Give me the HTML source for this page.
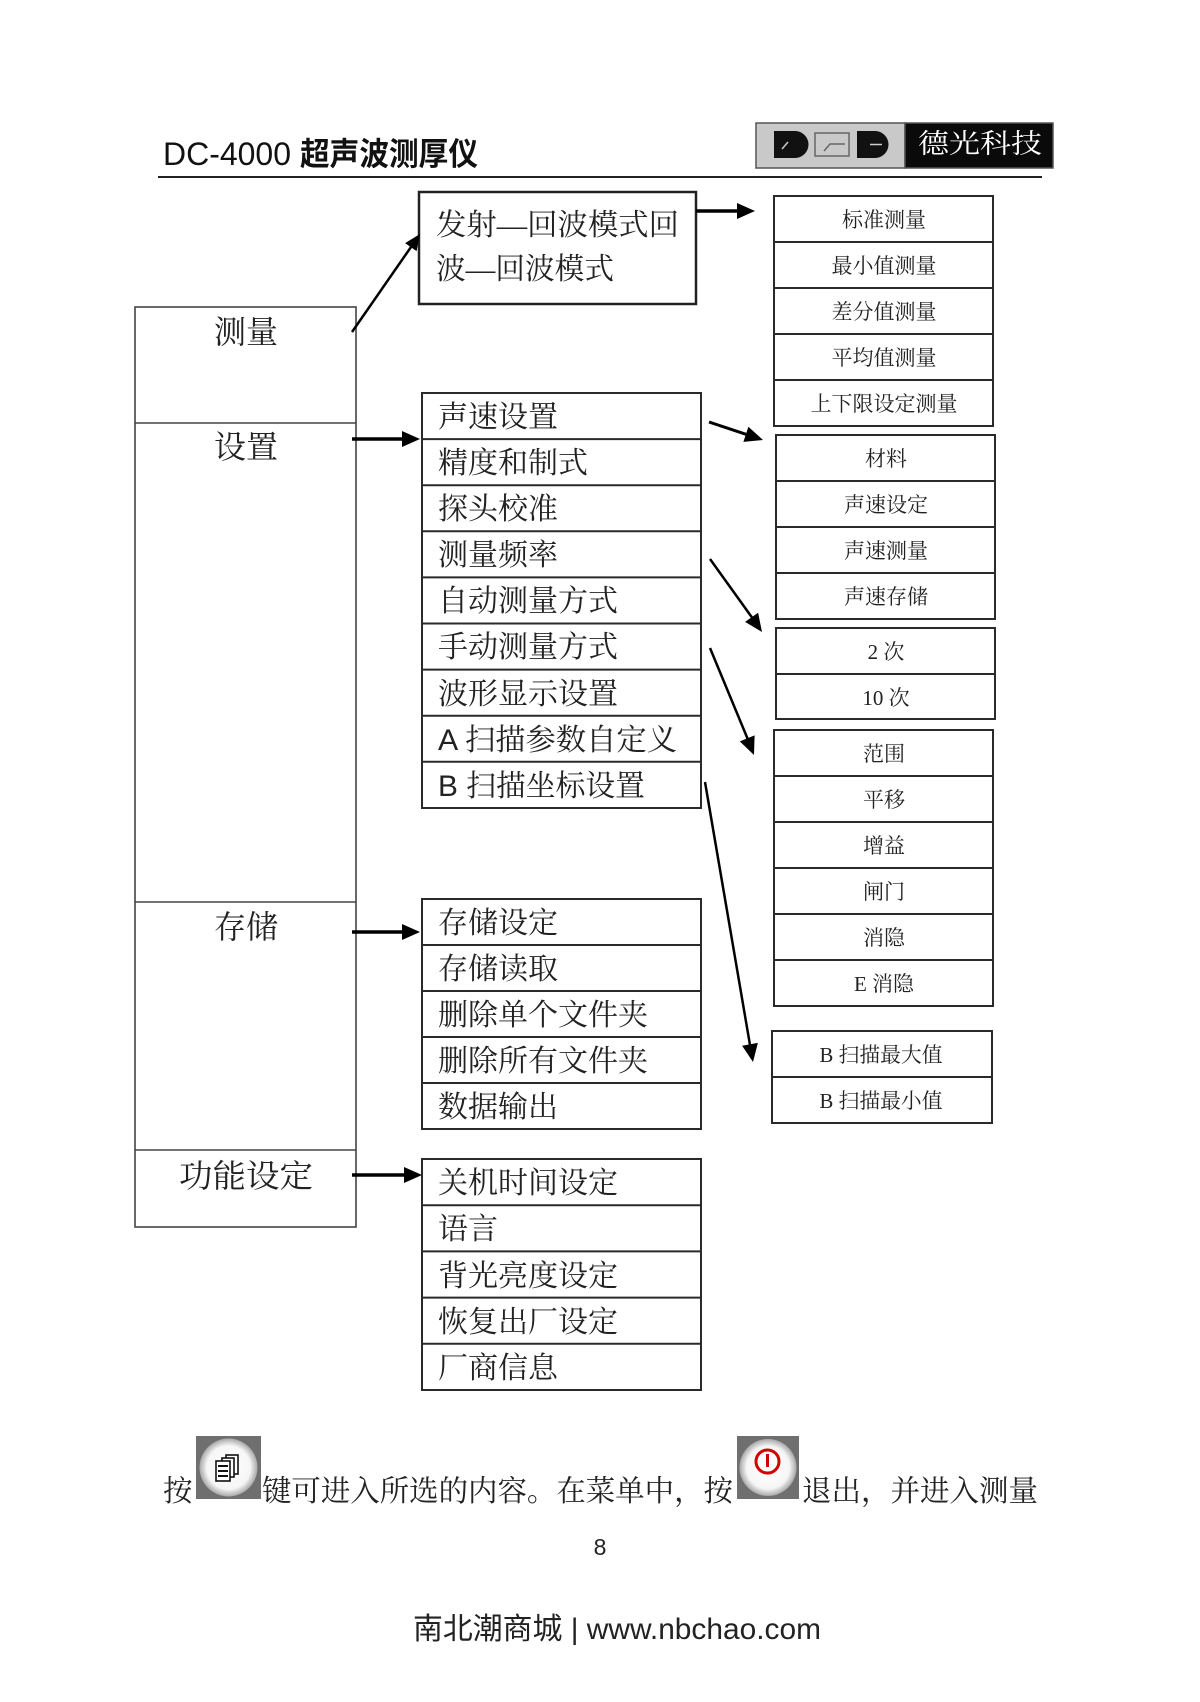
<!DOCTYPE html>
<html><head><meta charset="utf-8"><style>
html,body{margin:0;padding:0;background:#fff;}
svg{display:block;}
.s{font-family:"Liberation Serif","Noto Serif CJK SC",serif;}
.m{font-family:"Liberation Sans","Noto Serif CJK SC",serif;}
.h{font-family:"Liberation Sans","Noto Sans CJK SC",sans-serif;}
</style></head><body>
<svg width="1200" height="1702" viewBox="0 0 1200 1702" xmlns="http://www.w3.org/2000/svg">
<defs>
<radialGradient id="wg" cx="50%" cy="50%" r="50%">
<stop offset="0%" stop-color="#ffffff"/><stop offset="75%" stop-color="#f6f6f6"/><stop offset="100%" stop-color="#a8a8a8"/>
</radialGradient>
</defs>
<rect width="1200" height="1702" fill="#fff"/>

<!-- Header -->
<text x="163" y="165" class="h" font-size="32" fill="#111"><tspan textLength="128" lengthAdjust="spacingAndGlyphs">DC-4000</tspan><tspan x="300" font-weight="bold" textLength="178" lengthAdjust="spacingAndGlyphs">超声波测厚仪</tspan></text>
<line x1="158" y1="177" x2="1042" y2="177" stroke="#222" stroke-width="2"/>
<!-- Logo -->
<rect x="756" y="123" width="149" height="45" fill="#c9c9c9" stroke="#555" stroke-width="1.5"/>
<rect x="905" y="123" width="148" height="45" fill="#0a0a0a" stroke="#555" stroke-width="1.5"/>
<path d="M774 131 H795 A13.5 13.5 0 0 1 795 158 H774 Z" fill="#111"/>
<line x1="782" y1="149" x2="788" y2="142" stroke="#ccc" stroke-width="1.5"/>
<rect x="815" y="133" width="34" height="23" fill="none" stroke="#666" stroke-width="1.5"/>
<path d="M824 151 L830 144 H845" fill="none" stroke="#666" stroke-width="1.5"/>
<path d="M857 131 H875 A13.5 13.5 0 0 1 875 158 H857 Z" fill="#111"/>
<line x1="870" y1="144.5" x2="882" y2="144.5" stroke="#ccc" stroke-width="1.5"/>
<text x="918" y="153" class="s" font-size="27" fill="#fff" textLength="124" lengthAdjust="spacingAndGlyphs">德光科技</text>

<!-- Left main box -->
<g stroke="#444" stroke-width="1.6" fill="none">
<rect x="135" y="307" width="221" height="920"/>
<line x1="135" y1="423" x2="356" y2="423"/>
<line x1="135" y1="902" x2="356" y2="902"/>
<line x1="135" y1="1150" x2="356" y2="1150"/>
</g>
<g class="s" font-size="32" fill="#222" text-anchor="middle">
<text x="246" y="343">测量</text>
<text x="246" y="458">设置</text>
<text x="246" y="938">存储</text>
<text x="246" y="1187" textLength="134" lengthAdjust="spacingAndGlyphs">功能设定</text>
</g>

<!-- Top box -->
<rect x="419" y="192" width="277" height="112" fill="none" stroke="#222" stroke-width="2.5"/>
<text x="436" y="235" class="s" font-size="30" fill="#222" textLength="243" lengthAdjust="spacingAndGlyphs">发射—回波模式回</text>
<text x="436" y="279" class="s" font-size="30" fill="#222" textLength="178" lengthAdjust="spacingAndGlyphs">波—回波模式</text>

<!-- Settings group -->
<g stroke="#2a2a2a" stroke-width="2" fill="none">
<rect x="422" y="393" width="279" height="415"/>
<line x1="422" y1="439.1" x2="701" y2="439.1"/>
<line x1="422" y1="485.2" x2="701" y2="485.2"/>
<line x1="422" y1="531.3" x2="701" y2="531.3"/>
<line x1="422" y1="577.4" x2="701" y2="577.4"/>
<line x1="422" y1="623.5" x2="701" y2="623.5"/>
<line x1="422" y1="669.6" x2="701" y2="669.6"/>
<line x1="422" y1="715.7" x2="701" y2="715.7"/>
<line x1="422" y1="761.8" x2="701" y2="761.8"/>
</g>
<g class="m" font-size="30" fill="#222">
<text x="438" y="427">声速设置</text>
<text x="438" y="473">精度和制式</text>
<text x="438" y="519">探头校准</text>
<text x="438" y="565">测量频率</text>
<text x="438" y="611">自动测量方式</text>
<text x="438" y="657">手动测量方式</text>
<text x="438" y="704">波形显示设置</text>
<text x="438" y="750" textLength="239" lengthAdjust="spacingAndGlyphs">A 扫描参数自定义</text>
<text x="438" y="796" textLength="207" lengthAdjust="spacingAndGlyphs">B 扫描坐标设置</text>
</g>

<!-- Storage group -->
<g stroke="#2a2a2a" stroke-width="2" fill="none">
<rect x="422" y="899" width="279" height="230"/>
<line x1="422" y1="945" x2="701" y2="945"/>
<line x1="422" y1="991" x2="701" y2="991"/>
<line x1="422" y1="1037" x2="701" y2="1037"/>
<line x1="422" y1="1083" x2="701" y2="1083"/>
</g>
<g class="m" font-size="30" fill="#222">
<text x="438" y="933">存储设定</text>
<text x="438" y="979">存储读取</text>
<text x="438" y="1025">删除单个文件夹</text>
<text x="438" y="1071">删除所有文件夹</text>
<text x="438" y="1117">数据输出</text>
</g>

<!-- Function group -->
<g stroke="#2a2a2a" stroke-width="2" fill="none">
<rect x="422" y="1159" width="279" height="231"/>
<line x1="422" y1="1205.2" x2="701" y2="1205.2"/>
<line x1="422" y1="1251.4" x2="701" y2="1251.4"/>
<line x1="422" y1="1297.6" x2="701" y2="1297.6"/>
<line x1="422" y1="1343.8" x2="701" y2="1343.8"/>
</g>
<g class="m" font-size="30" fill="#222">
<text x="438" y="1193">关机时间设定</text>
<text x="438" y="1239">语言</text>
<text x="438" y="1286">背光亮度设定</text>
<text x="438" y="1332">恢复出厂设定</text>
<text x="438" y="1378">厂商信息</text>
</g>

<!-- Right groups -->
<g stroke="#2a2a2a" stroke-width="2" fill="none">
<rect x="774" y="196" width="219" height="230"/>
<line x1="774" y1="242" x2="993" y2="242"/>
<line x1="774" y1="288" x2="993" y2="288"/>
<line x1="774" y1="334" x2="993" y2="334"/>
<line x1="774" y1="380" x2="993" y2="380"/>

<rect x="776" y="435" width="219" height="184"/>
<line x1="776" y1="481" x2="995" y2="481"/>
<line x1="776" y1="527" x2="995" y2="527"/>
<line x1="776" y1="573" x2="995" y2="573"/>

<rect x="776" y="628" width="219" height="91"/>
<line x1="776" y1="674" x2="995" y2="674"/>

<rect x="774" y="730" width="219" height="276"/>
<line x1="774" y1="776" x2="993" y2="776"/>
<line x1="774" y1="822" x2="993" y2="822"/>
<line x1="774" y1="868" x2="993" y2="868"/>
<line x1="774" y1="914" x2="993" y2="914"/>
<line x1="774" y1="960" x2="993" y2="960"/>

<rect x="772" y="1031" width="220" height="92"/>
<line x1="772" y1="1077" x2="992" y2="1077"/>
</g>
<g class="s" font-size="21" fill="#222" text-anchor="middle">
<text x="884" y="227">标准测量</text>
<text x="884" y="273">最小值测量</text>
<text x="884" y="319">差分值测量</text>
<text x="884" y="365">平均值测量</text>
<text x="884" y="411">上下限设定测量</text>
<text x="886" y="466">材料</text>
<text x="886" y="512">声速设定</text>
<text x="886" y="558">声速测量</text>
<text x="886" y="604">声速存储</text>
<text x="886" y="659">2 次</text>
<text x="886" y="705">10 次</text>
<text x="884" y="761">范围</text>
<text x="884" y="807">平移</text>
<text x="884" y="853">增益</text>
<text x="884" y="899">闸门</text>
<text x="884" y="945">消隐</text>
<text x="884" y="991">E 消隐</text>
<text x="881" y="1062" textLength="123" lengthAdjust="spacingAndGlyphs">B 扫描最大值</text>
<text x="881" y="1108" textLength="123" lengthAdjust="spacingAndGlyphs">B 扫描最小值</text>
</g>

<!-- Arrows -->
<g stroke="#000" fill="none" stroke-linecap="butt">
<line x1="352" y1="332" x2="411" y2="247" stroke-width="2.5"/>
<line x1="696" y1="211" x2="738" y2="211" stroke-width="3.5"/>
<line x1="352" y1="439" x2="403" y2="439" stroke-width="3.5"/>
<line x1="709" y1="422" x2="746" y2="434.3" stroke-width="3"/>
<line x1="710" y1="559" x2="752" y2="617.5" stroke-width="2.5"/>
<line x1="710" y1="648" x2="747.5" y2="738.5" stroke-width="2.5"/>
<line x1="705" y1="782" x2="750" y2="1045" stroke-width="2.5"/>
<line x1="352" y1="932" x2="403" y2="932" stroke-width="3.5"/>
<line x1="352" y1="1175" x2="405" y2="1175" stroke-width="3.5"/>
</g>
<g fill="#000">
<polygon points="420,234 416.6,251.1 405.1,243.1"/>
<polygon points="755,211 737,203 737,219"/>
<polygon points="420,439 402,431 402,447"/>
<polygon points="763,440 743.4,441.9 748.4,426.7"/>
<polygon points="762,632 745.1,621.9 758.1,612.7"/>
<polygon points="754,755 739.8,741.4 754.6,735.4"/>
<polygon points="753,1062 742.1,1045.7 757.9,1042.9"/>
<polygon points="420,932 402,924 402,940"/>
<polygon points="422,1175 404,1167 404,1183"/>
</g>

<!-- Bottom instruction line -->
<g class="s" font-size="29.5" fill="#222">
<text x="163" y="1501">按</text>
<text x="262" y="1501" textLength="471" lengthAdjust="spacingAndGlyphs">键可进入所选的内容。在菜单中，按</text>
<text x="802" y="1501" textLength="236" lengthAdjust="spacingAndGlyphs">退出，并进入测量</text>
</g>
<!-- Icon 1 -->
<rect x="196" y="1436" width="65" height="63" fill="#6f6f6f"/>
<circle cx="228.5" cy="1467.5" r="29" fill="url(#wg)"/>
<g fill="#fff" stroke="#111" stroke-width="1.6">
<rect x="226" y="1455" width="12" height="19"/>
<rect x="222" y="1458" width="12" height="19"/>
<rect x="216" y="1461" width="14" height="20"/>
</g>
<g stroke="#111" stroke-width="2">
<line x1="218" y1="1466" x2="228" y2="1466"/>
<line x1="218" y1="1471" x2="228" y2="1471"/>
<line x1="218" y1="1476" x2="228" y2="1476"/>
</g>
<!-- Icon 2 -->
<rect x="737" y="1436" width="62" height="63" fill="#6f6f6f"/>
<circle cx="768" cy="1467.5" r="28.5" fill="url(#wg)"/>
<circle cx="767.5" cy="1461.5" r="11.5" fill="none" stroke="#d40000" stroke-width="3"/>
<line x1="767.5" y1="1454" x2="767.5" y2="1467" stroke="#d40000" stroke-width="3"/>

<!-- Page number -->
<text x="600" y="1555" class="h" font-size="23" fill="#222" text-anchor="middle">8</text>

<!-- Footer -->
<text x="413" y="1639" class="h" font-size="30" fill="#222" textLength="408" lengthAdjust="spacingAndGlyphs">南北潮商城 | www.nbchao.com</text>
</svg>
</body></html>
